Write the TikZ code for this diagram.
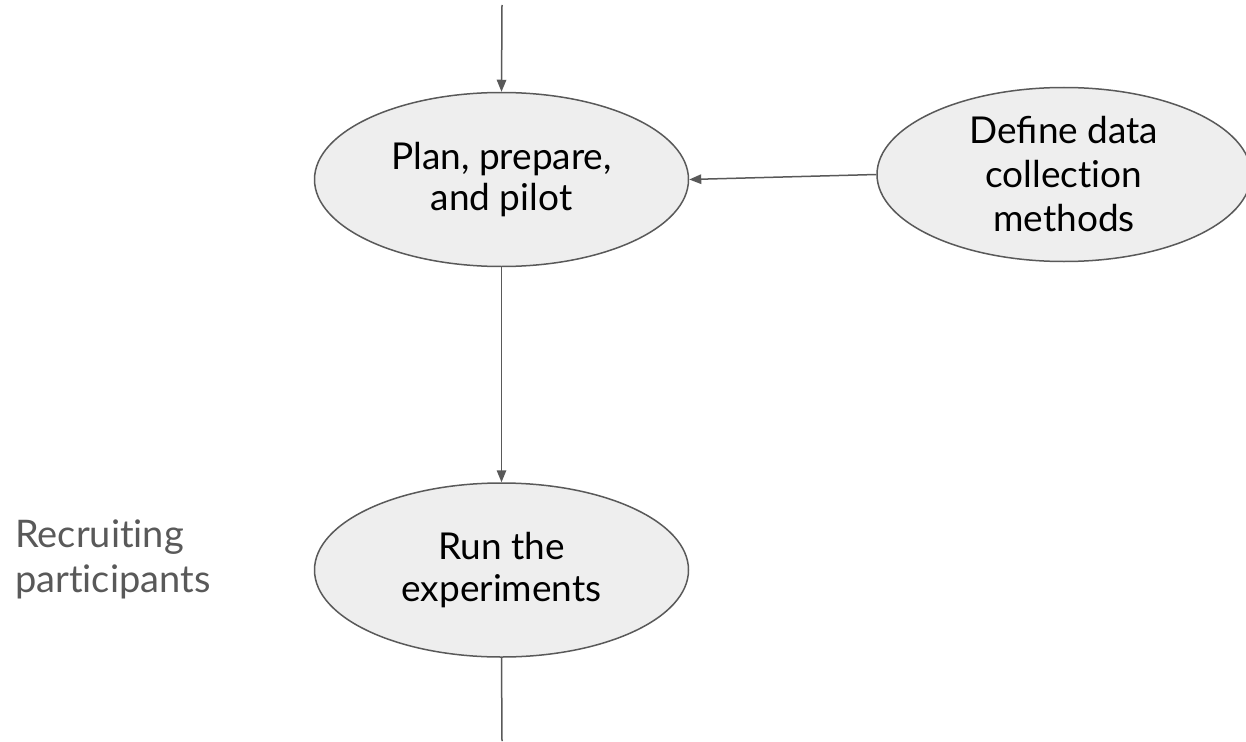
\documentclass[tikz,border=0pt]{standalone}
\usepackage{fontspec}
\setmainfont{Lato}
\usetikzlibrary{shapes.geometric,arrows.meta}
\definecolor{edgegray}{HTML}{595959}
\definecolor{fillgray}{HTML}{EEEEEE}
\definecolor{textgray}{HTML}{595959}
\begin{document}
\begin{tikzpicture}[x=1pt,y=-1pt,
  stepnode/.style={ellipse,draw=edgegray,fill=fillgray,line width=1.5pt,
    minimum width=374pt,minimum height=174pt,inner sep=0pt,align=center,
    font=\fontsize{37}{41.5}\selectfont},
  conn/.style={draw=edgegray,line width=1.5pt},
  arr/.style={conn,-{Triangle[length=12pt,width=9.5pt]}}]
\useasboundingbox (0,0) rectangle (1246,741);
\node[stepnode] (plan) at (501.5,179.5) {Plan, prepare,\\and pilot};
\node[stepnode,font=\fontsize{37}{44}\selectfont] (define) at (1064,174.5) {Define data\\collect\kern0pt ion\\methods};
\node[stepnode] (run) at (501.5,570) {Run the\\experiments};
\node[anchor=north west,align=left,text=textgray,inner sep=0pt,
  font=\fontsize{38}{45}\selectfont] (recruit) at (15,520) {Recruit\kern0pt ing\\part\kern0pt icipants};
\coordinate (top) at (502,5);
\coordinate (bottom) at (502,741);
\draw[arr] (top) -- (plan.north);
\draw[arr] (define.west) -- (plan.east);
\draw[arr] (plan.south) -- (run.north);
\draw[conn] (run.south) -- (bottom);
\end{tikzpicture}
\end{document}
